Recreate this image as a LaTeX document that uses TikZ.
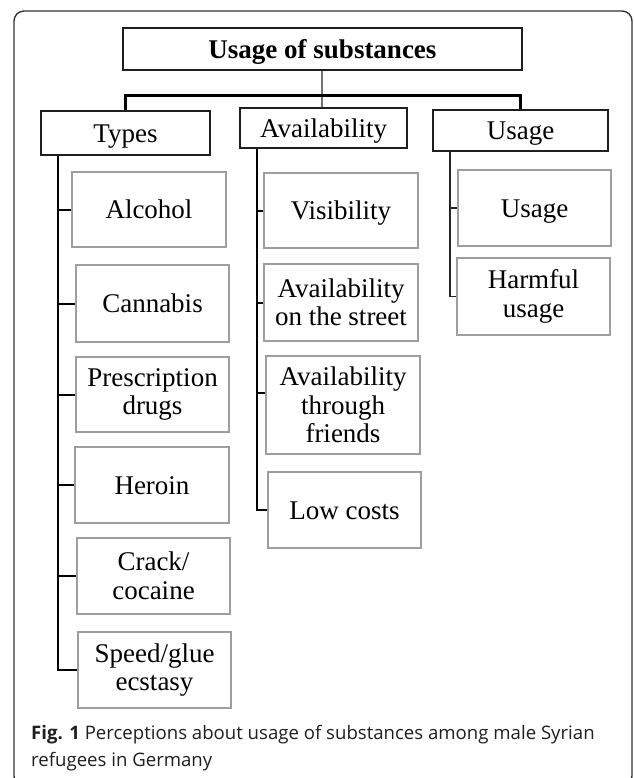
\documentclass[tikz,border=0pt]{standalone}
\usepackage{fontspec}
\setmainfont{Liberation Serif}
\newfontfamily\capfont{Open Sans}
\begin{document}
\begin{tikzpicture}[x=1pt,y=-1pt,
  lbl/.style={inner sep=0pt, align=center, font=\fontsize{27}{28.5}\selectfont},
  one/.style={text height=18.5pt, text depth=0pt},
  parent/.style={lbl, one, draw=black!88, line width=2.4pt},
  child/.style={lbl, draw=black!38, line width=1.4pt},
  conn/.style={draw=black, line width=2pt},
  capt/.style={anchor=base west, inner sep=0pt, text=black!88, font=\capfont\fontsize{18.6}{22}\selectfont},
]
\useasboundingbox (0,0) rectangle (633,778);
\clip (0,0) rectangle (633,778);
\fill[white] (0,0) rectangle (633,778);
% outer frame
\draw[draw=black!80, line width=1.4pt, rounded corners=10pt] (14,11) rectangle (632,786);

% top
\node[parent, minimum width=399pt, minimum height=42pt, font=\fontsize{27}{28.5}\selectfont\bfseries] (top) at (322.5,49) {Usage of substances};

% categories
\node[parent, minimum width=169pt, minimum height=44pt] (types) at (125.5,133) {Types};
\node[parent, minimum width=167pt, minimum height=40pt] (avail) at (323.5,128) {Availability};
\node[parent, minimum width=175pt, minimum height=41pt] (usage) at (520.5,130.5) {Usage};

% types children
\node[child, one, minimum width=154pt, minimum height=75pt] (alc) at (149,209.5) {Alcohol};
\node[child, one, minimum width=153pt, minimum height=77pt] (can) at (152.5,303.5) {Cannabis};
\node[child, minimum width=153pt, minimum height=75pt] (pre) at (152.5,394.5) {Prescription\\drugs};
\node[child, one, minimum width=154pt, minimum height=76pt] (her) at (152,485) {Heroin};
\node[child, minimum width=153pt, minimum height=76pt] (cra) at (153.5,576) {Crack/\\cocaine};
\node[child, minimum width=153pt, minimum height=76pt] (spe) at (154.5,670) {Speed/glue\\ecstasy};

% availability children
\node[child, one, minimum width=154pt, minimum height=75pt] (vis) at (341,210.5) {Visibility};
\node[child, minimum width=154pt, minimum height=77pt] (str) at (341,302.5) {Availability\\on the street};
\node[child, minimum width=154pt, minimum height=98pt] (fri) at (343,405) {Availability\\through\\friends};
\node[child, one, minimum width=153pt, minimum height=76pt] (low) at (344.5,510) {Low costs};

% usage children
\node[child, one, minimum width=153pt, minimum height=76pt] (use) at (534.5,208) {Usage};
\node[child, minimum width=153pt, minimum height=77pt] (harm) at (533.5,296.5) {Harmful\\usage};

% connectors top level
\coordinate (bar) at (322,95.5);
\draw[draw=black!55, line width=2pt] (top.south -| bar) -- (avail.north -| bar);
\draw[conn, line width=2.2pt] (types.north) |- (usage.north |- bar) -- (usage.north);

% types trunk
\coordinate (tv) at (58,0);
\draw[conn] (types.south -| tv) |- (spe.west);
\draw[conn] (tv |- alc.west) -- (alc.west);
\draw[conn] (tv |- can.west) -- (can.west);
\draw[conn] (tv |- pre.west) -- (pre.west);
\draw[conn] (tv |- her.west) -- (her.west);
\draw[conn] (tv |- cra.west) -- (cra.west);

% availability trunk
\coordinate (av) at (257,0);
\coordinate (frtick) at (0,393);
\draw[conn] (avail.south -| av) |- (low.west);
\draw[conn] (av |- vis.west) -- (vis.west);
\draw[conn] (av |- str.west) -- (str.west);
\draw[conn] (av |- frtick) -- (fri.west |- frtick);

% usage trunk
\coordinate (uv) at (450,0);
\draw[conn, draw=black!85, line width=1.6pt] (usage.south -| uv) |- (harm.west);
\draw[conn, draw=black!85, line width=1.6pt] (uv |- use.west) -- (use.west);

% caption
\node[capt] (cap1) at (31,739) {\textbf{Fig. 1} Perceptions about usage of substances among male Syrian};
\node[capt] (cap2) at (31,766) {refugees in Germany};
\end{tikzpicture}
\end{document}
